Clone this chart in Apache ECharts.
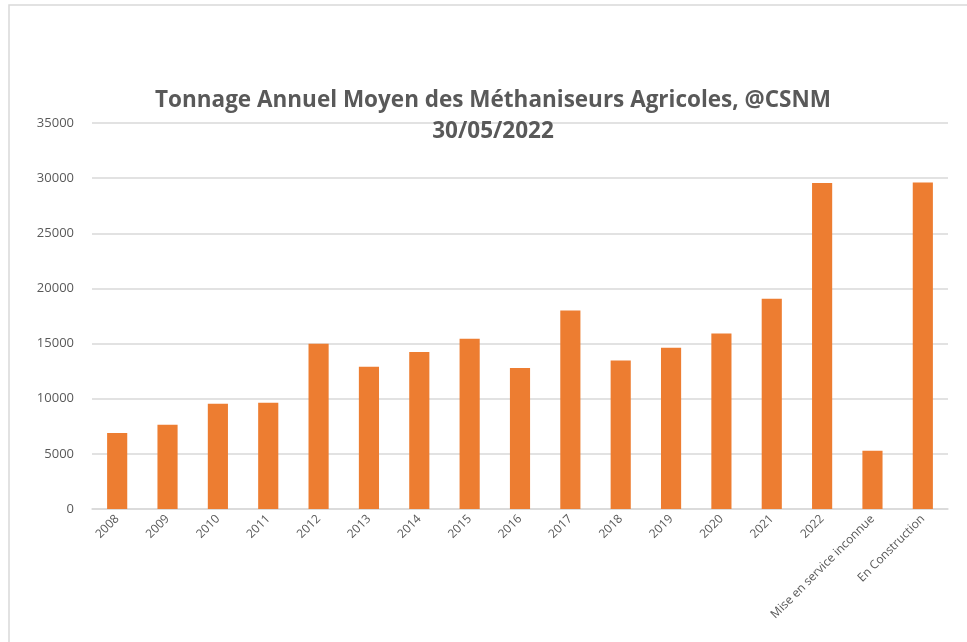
<!DOCTYPE html>
<html>
<head>
<meta charset="utf-8">
<script src="https://cdn.jsdelivr.net/npm/echarts@6/dist/echarts.min.js"></script>
<style>
  html, body { margin: 0; padding: 0; background: #fff; }
  #chart { width: 967px; height: 642px; }
</style>
</head>
<body>
<div id="chart"></div>
<script>
// catégories (axe X)
var categories = ["2008", "2009", "2010", "2011", "2012", "2013", "2014", "2015", "2016",
  "2017", "2018", "2019", "2020", "2021", "2022", "Mise en service inconnue", "En Construction"];
// tonnage moyen
var tonnage = [6890, 7640, 9540, 9630, 14980, 12900, 14230, 15430, 12780,
  18000, 13470, 14620, 15920, 19060, 29550, 5280, 29600];
// graduations de l'axe Y
var yMin = 0;
var yMax = 35000;
var yStep = 5000;

var myChart = echarts.init(document.getElementById("chart"));
var grey = "#595959";
var font = "'Open Sans', sans-serif";

var option = {
  animation: false,
  backgroundColor: "#fff",
  title: {
    text: "Tonnage Annuel Moyen des Méthaniseurs Agricoles, @CSNM\n30/05/2022",
    left: 488,
    top: 80,
    textAlign: "center",
    textStyle: {
      color: grey,
      fontSize: 22.5,
      fontWeight: "bold",
      fontFamily: font,
      lineHeight: 31,
    },
  },
  graphic: [
    {
      type: "polyline",
      shape: { points: [[9, 642], [9, 5], [967, 5]] },
      style: { stroke: "#d9d9d9", lineWidth: 1.5, fill: null },
      silent: true,
    },
  ],
  grid: { left: 92, right: 19, top: 123, bottom: 133 },
  xAxis: {
    type: "category",
    data: categories,
    axisLine: { lineStyle: { color: "#d9d9d9", width: 1.5 } },
    axisTick: { show: false },
    axisLabel: {
      rotate: 45,
      interval: 0,
      color: grey,
      fontSize: 12,
      fontFamily: font,
      margin: 8,
    },
  },
  yAxis: {
    type: "value",
    min: yMin,
    max: yMax,
    interval: yStep,
    axisLine: { show: false },
    axisTick: { show: false },
    splitLine: { lineStyle: { color: "#d9d9d9", width: 1.5 } },
    axisLabel: {
      color: grey,
      fontSize: 13,
      fontFamily: font,
      margin: 18,
      formatter: function (v) { return String(v); },
    },
  },
  series: [
    {
      type: "bar",
      data: tonnage,
      barWidth: "40%",
      itemStyle: { color: "#ED7D31" },
    },
  ],
};
myChart.setOption(option);
</script>
</body>
</html>
